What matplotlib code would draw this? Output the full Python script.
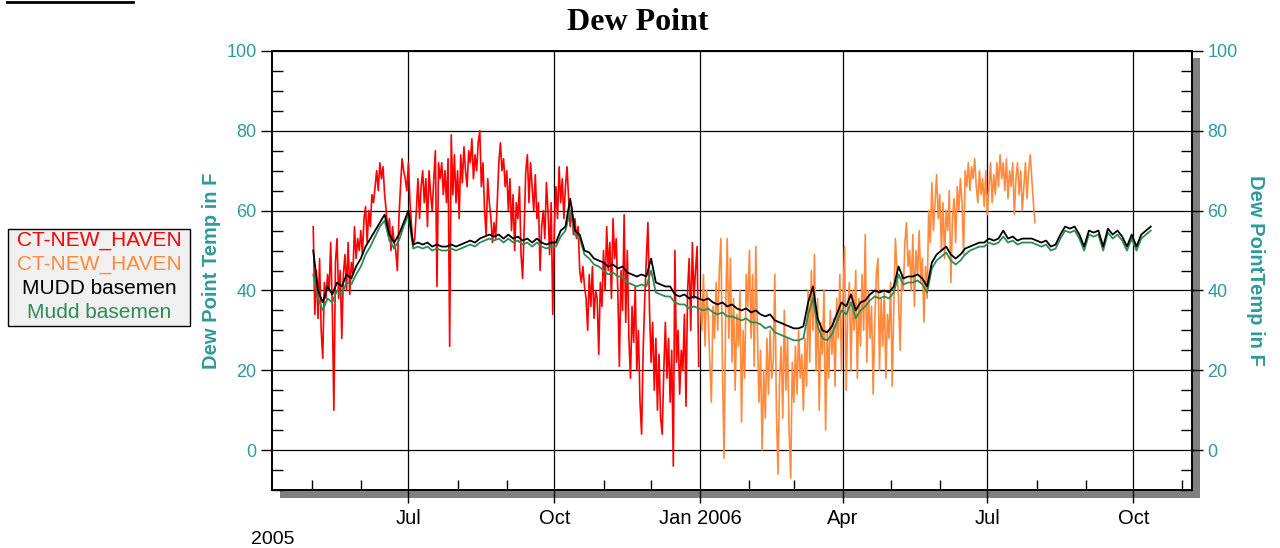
import numpy as np
import pandas as pd
import matplotlib.pyplot as plt
import matplotlib.dates as mdates
from matplotlib.patches import Rectangle
from matplotlib.lines import Line2D
from matplotlib.ticker import MultipleLocator, FuncFormatter

# outdoor station, daily readings (red part 2005, orange part 2006)
red_start = '2005-05-02'
red_vals = [56, 34, 45, 33, 48, 30, 23, 42, 38, 44,
            40, 52, 36, 10, 47, 53, 38, 45, 28, 44,
            49, 40, 52, 39, 47, 44, 56, 48, 53, 50,
            55, 49, 58, 61, 52, 60, 56, 64, 62, 66,
            70, 65, 72, 68, 71, 64, 60, 55, 58, 50,
            56, 52, 50, 45, 58, 66, 73, 70, 68, 65,
            72, 62, 56, 51, 53, 60, 68, 58, 66, 70,
            62, 68, 56, 70, 64, 60, 68, 75, 41, 72,
            68, 72, 64, 70, 62, 73, 26, 79, 64, 74,
            62, 70, 58, 74, 67, 76, 70, 66, 75, 72,
            78, 68, 74, 70, 77, 80, 66, 72, 60, 54,
            68, 62, 58, 52, 57, 53, 62, 72, 77, 70,
            73, 66, 70, 60, 68, 55, 64, 50, 62, 58,
            66, 49, 43, 56, 70, 74, 62, 72, 66, 60,
            69, 58, 62, 45, 56, 60, 53, 67, 60, 49,
            62, 34, 56, 66, 58, 71, 62, 68, 58, 66,
            71, 63, 56, 61, 54, 58, 53, 56, 45, 42,
            46, 41, 38, 30, 44, 36, 46, 33, 40, 38,
            24, 42, 36, 50, 40, 56, 45, 52, 38, 58,
            48, 53, 40, 21, 45, 35, 59, 32, 50, 28,
            18, 36, 27, 41, 20, 30, 12, 4, 25, 38,
            48, 57, 35, 22, 32, 15, 28, 10, 24, 8,
            4, 20, 32, 18, 28, 12, 25, -4, 50, 22,
            30, 14, 25, 20, 34, 11, 40, 48, 30, 52,
            38, 45, 51, 21]

orange_start = '2006-01-01'
orange_vals = [38, 30, 44, 26, 40, 34, 22, 12, 36, 28,
               42, 30, 45, 53, 20, -2, 35, 53, 28, 48,
               22, 38, 15, 34, 26, 40, 7, 30, 18, 44,
               36, 50, 28, 44, 21, 51, 30, 12, 25, 0,
               20, 8, 28, 14, 30, 18, 22, 44, 10, -6,
               18, 26, 8, 35, 15, 28, 5, -7, 22, 12,
               26, 14, 30, 18, 24, 10, 28, 16, 40, 22,
               45, 30, 49, 20, 38, 10, 32, 24, 40, 5,
               30, 18, 35, 24, 33, 16, 38, 28, 44, 20,
               38, 51, 15, 36, 42, 20, 40, 30, 45, 18,
               38, 26, 44, 30, 54, 22, 40, 28, 36, 14,
               32, 44, 48, 20, 38, 26, 40, 18, 34, 28,
               42, 16, 36, 53, 45, 38, 25, 44, 40, 52,
               57, 46, 50, 40, 54, 36, 50, 44, 55, 42,
               48, 32, 46, 38, 60, 52, 67, 55, 62, 69,
               58, 64, 50, 62, 48, 60, 55, 65, 42, 58,
               63, 52, 66, 60, 68, 62, 49, 70, 66, 72,
               65, 71, 68, 73, 66, 62, 70, 64, 68, 61,
               70, 59, 66, 72, 62, 69, 64, 72, 66, 74,
               68, 72, 65, 73, 63, 70, 66, 72, 59, 68,
               72, 64, 70, 60, 66, 72, 63, 70, 74, 68,
               62, 57]

# basement sensors, every 3 days
mudd_start = '2005-05-02'
mudd_black = [50, 40, 37, 41, 39, 42, 41, 44, 43, 46,
              48, 51, 53, 55, 57, 59, 54, 52, 54, 57,
              60, 51.5, 52, 51.5, 52, 51, 51.5, 51, 51, 51.5,
              51, 51.5, 52, 52.5, 52, 53, 53.5, 54, 53.5, 54,
              53, 54, 53, 53.5, 52.5, 53, 52, 53, 52, 51.5,
              52, 52, 55, 56, 63, 55, 54, 50, 49.5, 48,
              47.5, 47, 46, 46.5, 45.5, 46, 44.5, 44, 43.5, 44,
              43.5, 48, 42, 41.5, 41, 41, 39, 38.5, 39, 38,
              38.5, 38, 37.5, 38, 37, 36.5, 37, 36, 36.5, 35.5,
              35, 35.5, 34.5, 35, 34, 33.5, 34, 32.5, 32, 31.5,
              31, 30.5, 30.5, 31, 37, 41, 33, 30, 29.5, 31,
              34, 37, 36, 39, 35, 37, 37.5, 39, 40, 39.5,
              40, 39.5, 41, 46, 43, 43.5, 43.5, 44, 43, 41,
              47, 49, 50, 51, 49, 48, 49, 50.5, 51, 51.5,
              52, 52, 53, 52.5, 53, 55, 53, 53.5, 52.5, 53,
              53, 53, 52.5, 52, 52.5, 51, 51.5, 54, 56, 55.5,
              56, 54, 51, 55, 54.5, 55, 51, 55.5, 54, 55,
              53.5, 51, 54, 51, 54, 55, 56]
mudd_green = [44, 38, 35, 38, 37, 40, 39, 42, 41.5, 44,
              46, 49, 51, 53.5, 56, 57.5, 52.5, 50.5, 52.5, 56,
              59, 50.5, 51, 50.5, 51, 50, 50.5, 50, 50, 50.5,
              50, 50.5, 51, 51.5, 51, 52, 52.5, 53, 52.5, 53,
              52, 53, 52, 52.5, 51.5, 52, 51, 52, 51, 50.5,
              51, 51, 53.5, 55, 60, 54, 53, 49, 48, 46.5,
              46, 45, 44, 44.5, 43.5, 43.5, 42, 41.5, 41, 41.5,
              41, 45, 39.5, 39, 38.5, 38.5, 37, 36.5, 36.5, 35.5,
              36, 35.5, 35, 35.5, 34.5, 34, 34.5, 33.5, 33.5, 33,
              32.5, 33, 32, 32, 31.5, 30.5, 31, 29.5, 29, 28.5,
              28, 27.5, 27.5, 28, 34, 38, 31, 28, 27.5, 29,
              32, 35, 34, 37, 33, 35, 36, 37.5, 38.5, 38,
              38.5, 38, 39.5, 44, 41.5, 42, 42, 42.5, 41.5, 39.5,
              45.5, 47.5, 48.5, 49.5, 47.5, 46.5, 47.5, 49, 50, 50.5,
              51, 51, 52, 51.5, 52, 53.5, 52, 52.5, 51.5, 52,
              52, 52, 51.5, 51, 51.5, 50, 50.5, 53, 55, 54.5,
              55, 53, 50, 54, 53.5, 54, 50, 54.5, 53, 54,
              52.5, 50, 53, 50, 53, 54, 55]

labels = ['CT-NEW_HAVEN', 'CT-NEW_HAVEN', 'MUDD basemen', 'Mudd basemen']
colors = ['#ff0000', '#ff8a3d', '#000000', '#2e8b57']
teal = '#2f9a9a'

red_x = pd.date_range(red_start, periods=len(red_vals), freq='D')
orange_x = pd.date_range(orange_start, periods=len(orange_vals), freq='D')
black_x = pd.date_range(mudd_start, periods=len(mudd_black), freq='3D')
green_x = pd.date_range(mudd_start, periods=len(mudd_green), freq='3D')

W, H = 1280, 548
fig = plt.figure(figsize=(W / 100, H / 100), dpi=100)
fig.patch.set_facecolor('white')

# gray drop shadow behind the plot frame
fig.patches.append(Rectangle((280 / W, 1 - 498 / H), 920 / W, 440 / H,
                             transform=fig.transFigure, facecolor='#808080',
                             edgecolor='none', zorder=-5))

ax = fig.add_axes([272 / W, 1 - 490 / H, 920 / W, 439 / H])
ax.set_facecolor('white')

ax.plot(red_x, red_vals, color=colors[0], lw=1.2, zorder=3)
ax.plot(orange_x, orange_vals, color=colors[1], lw=1.2, zorder=3)
ax.plot(green_x, mudd_green, color=colors[3], lw=1.3, zorder=4)
ax.plot(black_x, mudd_black, color=colors[2], lw=1.3, zorder=5)

ax.set_ylim(-10, 100)
ax.set_xlim(pd.Timestamp('2005-04-06'), pd.Timestamp('2006-11-07'))

ax.xaxis.set_major_locator(mdates.MonthLocator(bymonth=[1, 4, 7, 10]))
ax.xaxis.set_minor_locator(mdates.MonthLocator())
ax.xaxis.set_major_formatter(FuncFormatter(
    lambda v, p: mdates.num2date(v).strftime('%b %Y') if mdates.num2date(v).month == 1
    else mdates.num2date(v).strftime('%b')))
ax.yaxis.set_major_locator(MultipleLocator(20))
ax.yaxis.set_minor_locator(MultipleLocator(5))

ax.grid(True, which='major', color='black', lw=0.9)
ax.set_axisbelow(True)
for s in ax.spines.values():
    s.set_linewidth(1.2)

ax.tick_params(axis='x', which='major', direction='out', length=9, width=1, pad=5,
               labelsize=14.5)
ax.tick_params(axis='x', which='minor', direction='in', length=7, width=1)
ax.tick_params(axis='y', which='major', direction='out', length=8, width=1, pad=3,
               labelsize=13, labelcolor=teal)
ax.tick_params(axis='y', which='minor', direction='in', length=8, width=1)
for t in ax.get_xticklabels():
    t.set_family('Liberation Sans')
for t in ax.get_yticklabels():
    t.set_family('Liberation Sans')

ax2 = ax.twinx()
ax2.set_ylim(-10, 100)
ax2.yaxis.set_major_locator(MultipleLocator(20))
ax2.yaxis.set_minor_locator(MultipleLocator(5))
ax2.tick_params(axis='y', which='major', direction='out', length=8, width=1, pad=3,
                labelsize=13, labelcolor=teal)
ax2.tick_params(axis='y', which='minor', direction='in', length=8, width=1)
for t in ax2.get_yticklabels():
    t.set_family('Liberation Sans')
for s in ax2.spines.values():
    s.set_linewidth(1.2)

ax.set_ylabel('Dew Point Temp in F', color=teal, fontsize=14.5, fontweight='bold',
              family='Liberation Sans', labelpad=4)
ax2.set_ylabel('Dew PointTemp in F', color=teal, fontsize=14.5, fontweight='bold',
               family='Liberation Sans', rotation=270, labelpad=20)

fig.text(638 / W, 1 - 22 / H, 'Dew Point', ha='center', va='center',
         fontsize=23, fontweight='bold', family='Liberation Serif')
fig.text(273 / W, 1 - 540 / H, '2005', ha='center', va='center', fontsize=14,
         family='Liberation Sans')

# legend box drawn at the left
fig.patches.append(Rectangle((8 / W, 1 - 326 / H), 182 / W, 97 / H,
                             transform=fig.transFigure, facecolor='#f0f0f0',
                             edgecolor='black', lw=1.0, zorder=2))
for i, (lab, c) in enumerate(zip(labels, colors)):
    fig.text(99 / W, 1 - (241 + 24 * i) / H, lab, color=c, ha='center', va='center',
             fontsize=15, family='Liberation Sans', zorder=3)

# stray underline at the very top
fig.add_artist(Line2D([7 / W, 133 / W], [1 - 2 / H, 1 - 2 / H], color='black', lw=2))

fig.savefig('out.png', dpi=100)
